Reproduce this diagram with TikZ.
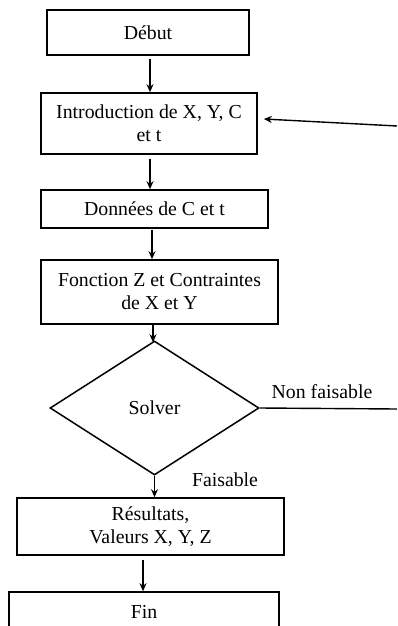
\documentclass[tikz,border=0pt]{standalone}
\usepackage{fontspec}
\setmainfont{Liberation Serif}
\usetikzlibrary{shapes.geometric,arrows.meta}
\begin{document}
\begin{tikzpicture}[x=1pt,y=-1pt,
  every node/.style={font=\fontsize{19.8}{23}\selectfont},
  box/.style={draw,line width=1.6pt,rectangle,inner sep=0pt,align=center},
  decision/.style={draw,line width=1.5pt,diamond,inner sep=0pt,align=center},
  arr/.style={-{Stealth[length=8pt,width=7pt]},line width=1.4pt},
  conn/.style={line width=1.4pt},
  lbl/.style={inner sep=0pt}]
\useasboundingbox (0,0) rectangle (397,626);
\clip (0,0) rectangle (397,626);
\node[box,minimum width=202pt,minimum height=45pt] (debut) at (148,32.5) {Début};
\node[box,minimum width=216pt,minimum height=61pt] (intro) at (149,123.5) {Introduction de X, Y, C\\et t};
\node[box,minimum width=227pt,minimum height=38pt] (donnees) at (154.5,209) {Données de C et t};
\node[box,minimum width=237pt,minimum height=64pt] (fonction) at (159.5,292) {Fonction Z et Contraintes\\de X et Y};
\node[decision,minimum width=209pt,minimum height=134pt] (solver) at (154.5,408) {Solver};
\node[box,minimum width=267pt,minimum height=57pt] (resultats) at (150.5,526.5) {Résultats,\\Valeurs X, Y, Z};
\node[box,minimum width=270pt,minimum height=40pt] (fin) at (144,612) {Fin};
\coordinate (nfend) at (397,409);
\coordinate (backstart) at (397,126);
\draw[arr] ([xshift=2pt,yshift=-3pt]debut.south) -- ([xshift=2pt]debut.south |- intro.north);
\draw[arr] ([xshift=1pt,yshift=-4pt]intro.south) -- ([xshift=1pt]intro.south |- donnees.north);
\draw[arr] ([xshift=-2.5pt,yshift=-1pt]donnees.south) -- ([xshift=-2.5pt]donnees.south |- fonction.north);
\draw[arr] ([xshift=-6.5pt]fonction.south) -- ([xshift=-1.5pt,yshift=-2pt]solver.north);
\draw[arr] (solver.south) -- (solver.south |- resultats.north);
\draw[arr] ([xshift=-7.5pt,yshift=-4pt]resultats.south) -- ([xshift=-7.5pt]resultats.south |- fin.north);
\draw[conn] (solver.east) -- (nfend);
\draw[arr] (backstart) -- ([xshift=6pt,yshift=4.5pt]intro.east);
\node[lbl] (nflbl) at (322,392) {Non faisable};
\node[lbl] (flbl) at (225,480) {Faisable};
\end{tikzpicture}
\end{document}
